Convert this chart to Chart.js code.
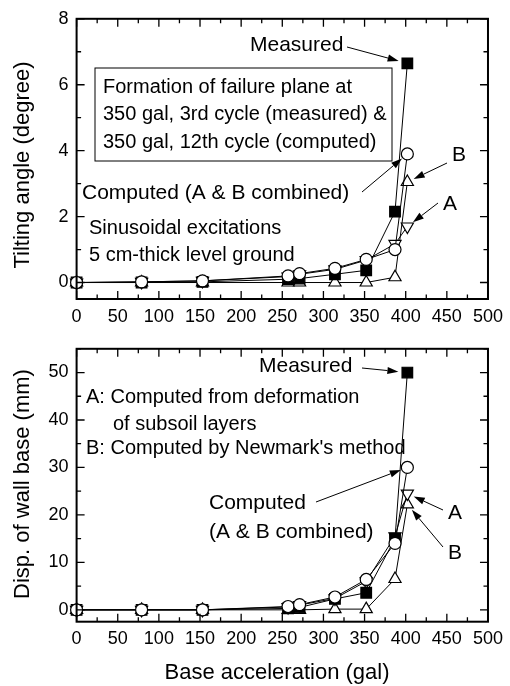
<!DOCTYPE html>
<html>
<head>
<meta charset="utf-8">
<script src="https://cdn.jsdelivr.net/npm/chart.js@4.4.1/dist/chart.umd.min.js"></script>
<style>
  html, body { margin: 0; padding: 0; background: #fff; }
  #top { position: absolute; left: 0; top: 0; width: 510px; height: 330px; }
  #bot { position: absolute; left: 0; top: 330px; width: 510px; height: 356px; }
</style>
</head>
<body>
<div id="top"><canvas id="c1"></canvas></div>
<div id="bot"><canvas id="c2"></canvas></div>
<script>
// base acceleration (gal)
const accel = [0, 79, 153, 257, 271, 314, 352, 387, 402];

// tilting angle (degree)
const tiltMeasured = [0, 0, 0.02, 0.1, 0.12, 0.25, 0.37, 2.15, 6.65];
const tiltCombined = [0, 0.02, 0.05, 0.2, 0.27, 0.43, 0.7, 1.0, 3.9];
const tiltA = [0, 0.02, 0.05, 0.18, 0.25, 0.4, 0.68, 1.17, 1.7];
const tiltB = [0, 0, 0, 0, 0, 0, 0, 0.16, 3.05];

// disp. of wall base (mm)
const dispMeasured = [0, 0, 0, 0.3, 0.5, 2.3, 3.6, 15, 50];
const dispCombined = [0, 0, 0, 0.7, 1.1, 2.7, 6.4, 14, 30];
const dispA = [0, 0, 0, 0.6, 1.0, 2.4, 6.0, 15.5, 24.5];
const dispB = [0, 0, 0, 0, 0, 0.15, 0.15, 6.5, 22.2];

const xTicks = [0, 50, 100, 150, 200, 250, 300, 350, 400, 450, 500];
const tiltTicks = [0, 2, 4, 6, 8];
const dispTicks = [0, 10, 20, 30, 40, 50];

const FONT = "'Liberation Sans', Arial, sans-serif";

function pts(ys) {
  return accel.map((x, i) => ({ x: x, y: ys[i] }));
}

function series(combined, measured, a, b) {
  const base = { borderColor: '#000', borderWidth: 1, pointBorderWidth: 1.2,
                 pointBorderColor: '#000', tension: 0, clip: false, fill: false };
  return [
    Object.assign({}, base, { label: 'Computed', data: pts(combined), pointStyle: 'circle',
      pointRadius: 6, pointBackgroundColor: '#fff' }),
    Object.assign({}, base, { label: 'Measured', data: pts(measured), pointStyle: 'rect',
      pointRadius: 7.5, pointBackgroundColor: '#000' }),
    Object.assign({}, base, { label: 'A', data: pts(a), pointStyle: 'triangle', pointRotation: 180,
      pointRadius: 7, pointBackgroundColor: '#fff' }),
    Object.assign({}, base, { label: 'B', data: pts(b), pointStyle: 'triangle',
      pointRadius: 7, pointBackgroundColor: '#fff' })
  ];
}

function arrow(ctx, x0, y0, x1, y1) {
  const a = Math.atan2(y1 - y0, x1 - x0), L = 11, W = 3.6;
  const bx = x1 - L * Math.cos(a), by = y1 - L * Math.sin(a);
  ctx.beginPath(); ctx.moveTo(x0, y0); ctx.lineTo(bx, by); ctx.stroke();
  ctx.beginPath();
  ctx.moveTo(x1, y1);
  ctx.lineTo(bx - W * Math.sin(a), by + W * Math.cos(a));
  ctx.lineTo(bx + W * Math.sin(a), by - W * Math.cos(a));
  ctx.closePath(); ctx.fill();
}

// frame, inward ticks, notes and arrows
const decor = {
  id: 'decor',
  afterDatasetsDraw(chart, args, o) {
    const ctx = chart.ctx, ca = chart.chartArea;
    const xs = chart.scales.x, ys = chart.scales.y;
    ctx.save();
    ctx.strokeStyle = '#000';
    ctx.fillStyle = '#000';
    ctx.lineWidth = 1.3;
    for (let v = 0; v <= 500; v += 25) {
      const px = xs.getPixelForValue(v);
      const len = v % 50 === 0 ? 8 : 4.5;
      ctx.beginPath();
      ctx.moveTo(px, ca.bottom); ctx.lineTo(px, ca.bottom - len);
      ctx.moveTo(px, ca.top); ctx.lineTo(px, ca.top + len);
      ctx.stroke();
    }
    for (let v = 0; v <= o.yMax; v += o.yMinor) {
      const py = ys.getPixelForValue(v);
      const len = (v / o.yMinor) % 2 === 0 ? 8 : 4.5;
      ctx.beginPath();
      ctx.moveTo(ca.left, py); ctx.lineTo(ca.left + len, py);
      ctx.moveTo(ca.right, py); ctx.lineTo(ca.right - len, py);
      ctx.stroke();
    }
    ctx.lineWidth = 2;
    ctx.strokeRect(ca.left, ca.top, ca.right - ca.left, ca.bottom - ca.top);

    // arrows to the last points
    ctx.lineWidth = 1;
    o.arrows.forEach(ar => {
      const el = chart.getDatasetMeta(ar.ds).data[ar.idx];
      const dx = el.x - ar.x, dy = el.y - ar.y, d = Math.hypot(dx, dy);
      arrow(ctx, ar.x, ar.y, el.x - dx / d * ar.gap, el.y - dy / d * ar.gap);
    });

    if (o.box) {
      ctx.lineWidth = 1;
      ctx.strokeRect(o.box[0], o.box[1], o.box[2], o.box[3]);
    }

    ctx.textBaseline = 'middle';
    ctx.textAlign = 'left';
    o.texts.forEach(t => {
      ctx.font = t.size + 'px ' + FONT;
      ctx.fillText(t.s, t.x, t.y);
    });

    ctx.textAlign = 'center';
    ctx.font = '22px ' + FONT;
    if (o.xTitle) ctx.fillText(o.xTitle.s, o.xTitle.x, o.xTitle.y);
    ctx.translate(23, o.yTitle.y);
    ctx.rotate(-Math.PI / 2);
    ctx.fillText(o.yTitle.s, 0, 0);
    ctx.restore();
  }
};

function makeChart(id, datasets, y, decoOpts, padTop, xAxisH) {
  return new Chart(document.getElementById(id), {
    type: 'line',
    data: { datasets: datasets },
    plugins: [decor],
    options: {
      responsive: true,
      maintainAspectRatio: false,
      animation: false,
      events: [],
      layout: { padding: { top: padTop, right: 14.3, left: 0, bottom: 0 } },
      plugins: { legend: { display: false }, tooltip: { enabled: false }, decor: decoOpts },
      scales: {
        x: {
          type: 'linear', min: 0, max: 500,
          grid: { display: false, drawTicks: false },
          border: { display: false },
          afterBuildTicks: s => { s.ticks = xTicks.map(v => ({ value: v })); },
          afterFit: s => { s.height = xAxisH; },
          ticks: { padding: 7, maxRotation: 0, autoSkip: false, color: '#000',
                   font: { family: FONT, size: 18 } }
        },
        y: {
          min: y.min, max: y.max,
          grid: { display: false, drawTicks: false },
          border: { display: false },
          afterBuildTicks: s => { s.ticks = y.ticks.map(v => ({ value: v })); },
          afterFit: s => { s.width = 76.6; },
          ticks: { padding: 8, color: '#000', font: { family: FONT, size: 18 } }
        }
      }
    }
  });
}

makeChart('c1', series(tiltCombined, tiltMeasured, tiltA, tiltB),
  { min: -0.5, max: 8, ticks: tiltTicks },
  {
    yMax: 8, yMinor: 1,
    box: [95, 68, 297, 93],
    texts: [
      { s: 'Measured', x: 250, y: 45, size: 21 },
      { s: 'Formation of failure plane at', x: 103, y: 87, size: 20 },
      { s: '350 gal, 3rd cycle (measured) &', x: 103, y: 114, size: 20 },
      { s: '350 gal, 12th cycle (computed)', x: 103, y: 142, size: 20 },
      { s: 'Computed (A & B combined)', x: 82, y: 193, size: 21 },
      { s: 'B', x: 452, y: 155, size: 21 },
      { s: 'A', x: 443, y: 204, size: 21 },
      { s: 'Sinusoidal excitations', x: 89, y: 228, size: 20 },
      { s: '5 cm-thick level ground', x: 89, y: 255, size: 20 }
    ],
    arrows: [
      { x: 347, y: 47, ds: 1, idx: 8, gap: 9 },
      { x: 362, y: 192, ds: 0, idx: 8, gap: 7 },
      { x: 447, y: 163, ds: 3, idx: 8, gap: 7 },
      { x: 438, y: 203, ds: 2, idx: 8, gap: 7 }
    ],
    yTitle: { s: 'Tilting angle (degree)', y: 165 }
  }, 18.3, 31);

makeChart('c2', series(dispCombined, dispMeasured, dispA, dispB),
  { min: -2.5, max: 55, ticks: dispTicks },
  {
    yMax: 55, yMinor: 5,
    texts: [
      { s: 'Measured', x: 259, y: 36, size: 21 },
      { s: 'A: Computed from deformation', x: 86, y: 67, size: 20 },
      { s: 'of subsoil layers', x: 113, y: 94, size: 20 },
      { s: "B: Computed by Newmark's method", x: 86, y: 118, size: 20 },
      { s: 'Computed', x: 209, y: 173, size: 21 },
      { s: '(A & B combined)', x: 209, y: 202, size: 21 },
      { s: 'A', x: 448, y: 183, size: 21 },
      { s: 'B', x: 448, y: 223, size: 21 }
    ],
    arrows: [
      { x: 362, y: 38, ds: 1, idx: 8, gap: 9 },
      { x: 316, y: 172, ds: 0, idx: 8, gap: 7 },
      { x: 443, y: 180, ds: 2, idx: 8, gap: 7 },
      { x: 443, y: 217, ds: 3, idx: 8, gap: 7 }
    ],
    xTitle: { s: 'Base acceleration (gal)', x: 277, y: 343 },
    yTitle: { s: 'Disp. of wall base (mm)', y: 154 }
  }, 10.7, 64.3);
</script>
</body>
</html>
